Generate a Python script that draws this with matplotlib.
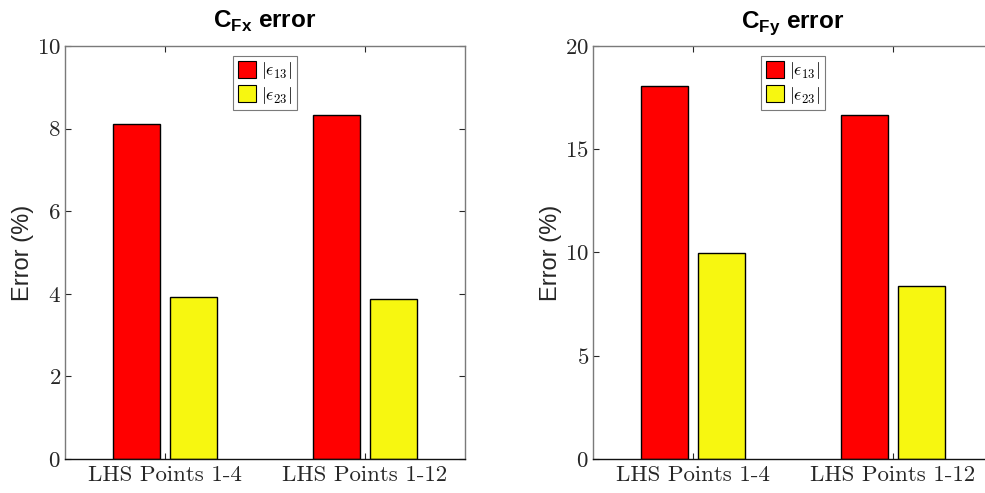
import matplotlib
matplotlib.use("Agg")
import matplotlib.pyplot as plt
import numpy as np
from matplotlib.patches import Patch

plt.rcParams['mathtext.fontset'] = 'custom'
plt.rcParams['mathtext.bf'] = 'Liberation Sans:bold'
plt.rcParams['mathtext.rm'] = 'Liberation Sans'
plt.rcParams['axes.formatter.use_mathtext'] = True

categories = ['LHS Points 1-4', 'LHS Points 1-12']
series_names = [r'$|\epsilon_{13}|$', r'$|\epsilon_{23}|$']
cfx_e13 = [8.11, 8.33]
cfx_e23 = [3.92, 3.87]
cfy_e13 = [18.06, 16.66]
cfy_e23 = [9.98, 8.38]
titles = [r'C$_{\mathbf{Fx}}$ error', r'C$_{\mathbf{Fy}}$ error']
yticks_l = [0, 2, 4, 6, 8, 10]
yticks_r = [0, 5, 10, 15, 20]

colors = ['#ff0000', '#f7f710']
gray = '#7a7a7a'
txtc = '#262626'

fig = plt.figure(figsize=(9.85, 4.93), dpi=100)
axL = fig.add_axes([65/985, 1-459/493, 400/985, 413/493])
axR = fig.add_axes([593/985, 1-459/493, 400/985, 413/493])

panels = [(axL, cfx_e13, cfx_e23, titles[0], yticks_l),
          (axR, cfy_e13, cfy_e23, titles[1], yticks_r)]

x = np.arange(1, len(categories) + 1)
w = 0.235
off = 0.143
for ax, e13, e23, title, yt in panels:
    ax.bar(x - off, e13, w, color=colors[0], edgecolor='black', linewidth=1.0, zorder=2)
    ax.bar(x + off, e23, w, color=colors[1], edgecolor='black', linewidth=1.0, zorder=2)
    ax.set_xlim(0.5, 2.5)
    ax.set_ylim(yt[0], yt[-1])
    ax.set_yticks(yt)
    ax.set_xticks(x)
    ax.set_xticklabels(categories)
    for lab in ax.get_xticklabels() + ax.get_yticklabels():
        lab.set_fontfamily('cmr10')
        lab.set_fontsize(16.5)
        lab.set_color(txtc)
    ax.tick_params(direction='in', top=True, right=True, length=4, width=0.8,
                   color=txtc)
    ax.tick_params(axis='y', pad=3)
    ax.tick_params(axis='x', pad=5)
    for s in ['left', 'top', 'right']:
        ax.spines[s].set_color(gray)
        ax.spines[s].set_linewidth(1.0)
    ax.spines['bottom'].set_color('#111111')
    ax.spines['bottom'].set_linewidth(1.0)
    ax.set_ylabel('Error (%)', fontfamily='Liberation Sans', fontsize=17, color=txtc, labelpad=2)
    ax.set_title(title, fontfamily='Liberation Sans', fontweight='bold', fontsize=17.5, pad=13)
    handles = [Patch(facecolor=colors[0], edgecolor='black', linewidth=0.8),
               Patch(facecolor=colors[1], edgecolor='black', linewidth=0.8)]
    leg = ax.legend(handles, series_names, loc='upper center', bbox_to_anchor=(0.5, 0.985),
                    fancybox=False, framealpha=1, edgecolor=gray, fontsize=13,
                    handlelength=1.0, handleheight=1.1, handletextpad=0.3,
                    borderpad=0.25, labelspacing=0.2, borderaxespad=0.2)
    for t in leg.get_texts():
        t.set_math_fontfamily('cm')
    leg.get_frame().set_linewidth(0.8)

fig.savefig('out.png', dpi=100)
